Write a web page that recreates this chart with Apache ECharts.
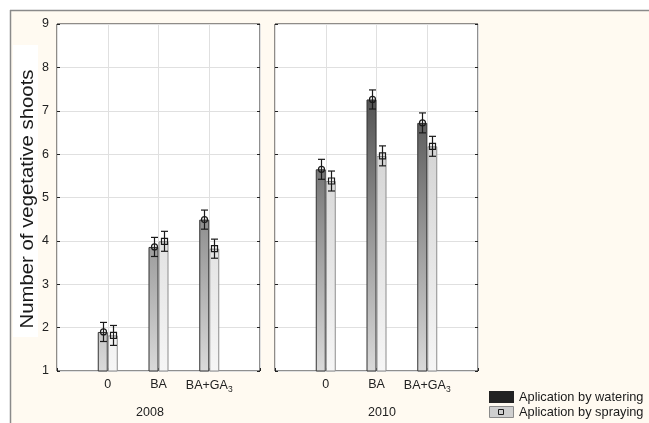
<!DOCTYPE html>
<html>
<head>
<meta charset="utf-8">
<script src="https://cdn.jsdelivr.net/npm/echarts@6/dist/echarts.min.js"></script>
<style>
  html, body { margin: 0; padding: 0; background: #fff; }
  #chart { width: 649px; height: 423px; }
</style>
</head>
<body>
<div id="chart"></div>
<script>
// Treatments, years and measured means with error half-widths
const categories = ['0', 'BA', 'BA+GA3'];
const years = ['2008', '2010'];
const seriesNames = ['Aplication by watering', 'Aplication by spraying'];

const watering2008 = [1.90, 3.86, 4.49];
const wateringErr2008 = [0.22, 0.22, 0.22];
const spraying2008 = [1.82, 3.99, 3.82];
const sprayingErr2008 = [0.23, 0.23, 0.22];

const watering2010 = [5.65, 7.26, 6.72];
const wateringErr2010 = [0.23, 0.22, 0.23];
const spraying2010 = [5.38, 5.96, 6.18];
const sprayingErr2010 = [0.23, 0.23, 0.23];

const yTicks = [1, 2, 3, 4, 5, 6, 7, 8, 9];

const FONT = 'Liberation Sans, Arial, sans-serif';
const BAR_W = 10;
const PLOT_TOP = 24, PLOT_H = 347;

// padded category list so the treatments sit on inner ticks
const xCats = [''].concat(categories, ['']);
const pad = arr => [null].concat(arr, [null]);

const wateringFill = {
  type: 'linear', x: 0, y: PLOT_TOP, x2: 0, y2: PLOT_TOP + PLOT_H, global: true,
  colorStops: [{ offset: 0, color: '#2e2e2e' }, { offset: 1, color: '#dadada' }]
};
const sprayingFill = {
  type: 'linear', x: 0, y: PLOT_TOP, x2: 0, y2: PLOT_TOP + PLOT_H, global: true,
  colorStops: [{ offset: 0, color: '#c2c2c2' }, { offset: 1, color: '#f6f6f6' }]
};

const panels = [
  { year: years[0], w: watering2008, we: wateringErr2008, s: spraying2008, se: sprayingErr2008, left: 57 },
  { year: years[1], w: watering2010, we: wateringErr2010, s: spraying2010, se: sprayingErr2010, left: 275 }
];

const grids = [], xAxes = [], yAxes = [], series = [];

panels.forEach((p, gi) => {
  grids.push({
    left: p.left, top: PLOT_TOP, width: 203, height: PLOT_H,
    show: true, backgroundColor: '#ffffff', borderColor: '#1e1e1e', borderWidth: 1
  });
  xAxes.push({
    type: 'category', gridIndex: gi, data: xCats, boundaryGap: false,
    axisLine: { show: false },
    axisTick: { show: true, inside: true, length: 3, lineStyle: { color: '#222' },
      interval: 0 },
    splitLine: { show: true, lineStyle: { color: '#e0e0e0', width: 1 } },
    axisLabel: {
      interval: 0, margin: 7, color: '#222', fontFamily: FONT, fontSize: 12.5,
      formatter: v => v === 'BA+GA3' ? 'BA+GA{s|3}' : v,
      rich: { s: { fontSize: 8.5, fontFamily: FONT, color: '#222', padding: [7, 0, 0, 0] } }
    }
  });
  const yBase = { type: 'value', gridIndex: gi, min: 1, max: 9, interval: 1 };
  yAxes.push(Object.assign({}, yBase, {
    position: 'left',
    axisLine: { show: false },
    axisTick: { show: true, inside: true, length: 3, lineStyle: { color: '#222' } },
    splitLine: { show: true, lineStyle: { color: '#e0e0e0', width: 1 } },
    axisLabel: { show: gi === 0, margin: 8, color: '#222', fontFamily: FONT, fontSize: 12.5,
      formatter: v => yTicks.indexOf(v) >= 0 ? String(v) : '' }
  }));
  yAxes.push(Object.assign({}, yBase, {
    position: 'right',
    axisLine: { show: false },
    axisTick: { show: true, inside: true, length: 3, lineStyle: { color: '#222' } },
    splitLine: { show: false },
    axisLabel: { show: false }
  }));

  series.push({
    name: seriesNames[0], type: 'bar', xAxisIndex: gi, yAxisIndex: gi * 2,
    data: pad(p.w), barWidth: BAR_W, barGap: '0%',
    itemStyle: { color: wateringFill, borderColor: '#333', borderWidth: 1 },
    emphasis: { disabled: true }, z: 2
  });
  series.push({
    name: seriesNames[1], type: 'bar', xAxisIndex: gi, yAxisIndex: gi * 2,
    data: pad(p.s), barWidth: BAR_W, barGap: '0%',
    itemStyle: { color: sprayingFill, borderColor: '#8c8c8c', borderWidth: 1 },
    emphasis: { disabled: true }, z: 2
  });

  // mean markers and whiskers drawn on top of the bars
  const errData = [];
  p.w.forEach((v, i) => errData.push([i + 1, v, p.we[i], 0]));
  p.s.forEach((v, i) => errData.push([i + 1, v, p.se[i], 1]));
  series.push({
    type: 'custom', xAxisIndex: gi, yAxisIndex: gi * 2, data: errData, z: 5,
    silent: true,
    renderItem: (params, api) => {
      const idx = api.value(0), mean = api.value(1), err = api.value(2), kind = api.value(3);
      const dx = kind === 0 ? -BAR_W / 2 : BAR_W / 2;
      const c = api.coord([idx, mean]);
      const hi = api.coord([idx, mean + err]);
      const lo = api.coord([idx, mean - err]);
      const x = Math.round(c[0] + dx) + 0.5;
      const stroke = { stroke: '#1a1a1a', lineWidth: 1.2, fill: null };
      const children = [
        { type: 'line', shape: { x1: x, y1: hi[1], x2: x, y2: lo[1] }, style: stroke },
        { type: 'line', shape: { x1: x - 3.5, y1: hi[1], x2: x + 3.5, y2: hi[1] }, style: stroke },
        { type: 'line', shape: { x1: x - 3.5, y1: lo[1], x2: x + 3.5, y2: lo[1] }, style: stroke }
      ];
      if (kind === 0) {
        children.push({ type: 'circle', shape: { cx: x, cy: c[1], r: 3 },
          style: { stroke: '#1a1a1a', lineWidth: 1.2, fill: 'rgba(0,0,0,0)' } });
      } else {
        children.push({ type: 'rect', shape: { x: x - 3, y: c[1] - 3, width: 6, height: 6 },
          style: { stroke: '#1a1a1a', lineWidth: 1.2, fill: 'rgba(0,0,0,0)' } });
      }
      return { type: 'group', children: children };
    }
  });
});

// legend keys and labels
const LEG_X = 489, LEG_Y = [391, 406];
const legendGraphics = [
  { type: 'rect', z: 100, shape: { x: LEG_X, y: LEG_Y[0], width: 25, height: 12 },
    style: { fill: '#222222' } },
  { type: 'rect', z: 100, shape: { x: LEG_X + 0.5, y: LEG_Y[1] + 0.5, width: 24, height: 11 },
    style: { fill: '#cfcfcf', stroke: '#8a8a8a', lineWidth: 1 } },
  { type: 'rect', z: 101, shape: { x: LEG_X + 9.5, y: LEG_Y[1] + 3.5, width: 5, height: 5 },
    style: { stroke: '#1a1a1a', lineWidth: 1, fill: 'rgba(0,0,0,0)' } }
];
seriesNames.forEach((n, i) => legendGraphics.push({
  type: 'text', z: 100, x: LEG_X + 30, y: LEG_Y[i] + 6.5,
  style: { text: n, fill: '#1a1a1a', fontFamily: FONT, fontSize: 12.8,
    align: 'left', verticalAlign: 'middle' }
}));

const chart = echarts.init(document.getElementById('chart'), null, { renderer: 'canvas' });
chart.setOption({
  animation: false,
  backgroundColor: '#ffffff',
  graphic: [
    // cream page area with its top and left rules
    { type: 'rect', z: -10, shape: { x: 10, y: 10, width: 639, height: 413 },
      style: { fill: '#fffaf1' } },
    { type: 'line', z: -9, shape: { x1: 10, y1: 10.5, x2: 649, y2: 10.5 },
      style: { stroke: '#8a8a8a', lineWidth: 1.5 } },
    { type: 'line', z: -9, shape: { x1: 10.5, y1: 10, x2: 10.5, y2: 423 },
      style: { stroke: '#8a8a8a', lineWidth: 1.5 } },
    // white strip behind the axis title
    { type: 'rect', z: -8, shape: { x: 13, y: 45, width: 25, height: 292 },
      style: { fill: '#ffffff' } },
    { type: 'text', x: 28, y: 199, rotation: Math.PI / 2, scaleX: 1.1, z: 10,
      style: { text: 'Number of vegetative shoots', fill: '#1a1a1a', fontFamily: FONT,
        fontSize: 18.5, align: 'center', verticalAlign: 'middle' } },
    { type: 'text', x: 150, y: 413, z: 10,
      style: { text: years[0], fill: '#222', fontFamily: FONT, fontSize: 12.5,
        align: 'center', verticalAlign: 'middle' } },
    { type: 'text', x: 382, y: 413, z: 10,
      style: { text: years[1], fill: '#222', fontFamily: FONT, fontSize: 12.5,
        align: 'center', verticalAlign: 'middle' } }
  ].concat(legendGraphics),
  grid: grids,
  xAxis: xAxes,
  yAxis: yAxes,
  series: series
});
</script>
</body>
</html>
